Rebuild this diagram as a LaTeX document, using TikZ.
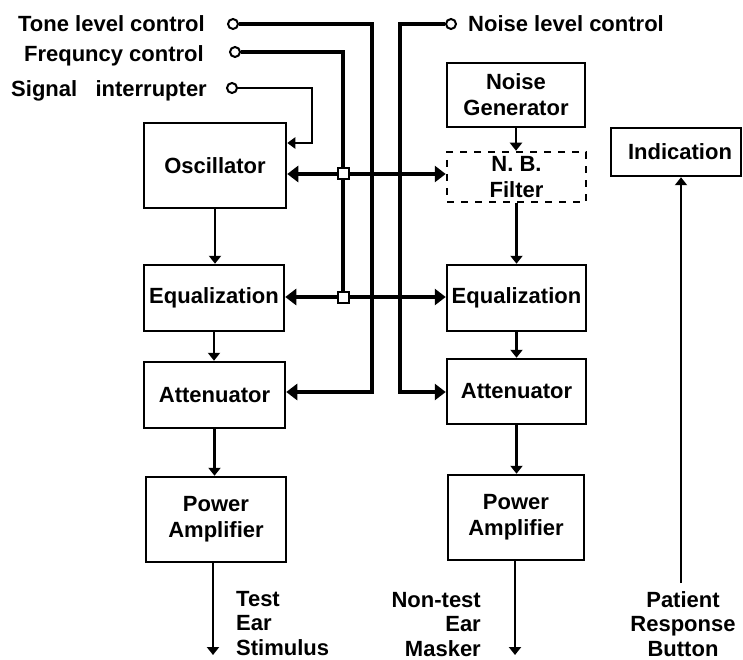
\documentclass[tikz,border=0pt]{standalone}
\usepackage{fontspec}
\setmainfont{Liberation Sans}
\usetikzlibrary{arrows.meta}
\begin{document}
\begin{tikzpicture}[x=1pt,y=-1pt,
  every node/.style={font=\fontsize{22}{26}\selectfont\bfseries, inner sep=0pt},
  blk/.style={draw, line width=2.5pt, align=center},
  dashblk/.style={blk, dash pattern=on 7pt off 7pt},
  flow/.style={line width=2.5pt, -{Triangle[length=8pt,width=12pt]}},
  ctrl/.style={line width=4pt, -{Triangle[length=11pt,width=16pt]}},
  dbl/.style={line width=4pt, {Triangle[length=11pt,width=16pt]}-{Triangle[length=11pt,width=16pt]}},
  thin/.style={line width=2.5pt, -{Triangle[length=8pt,width=11pt]}},
  term/.style={circle, draw, line width=2pt, minimum size=10pt, inner sep=0pt},
  sqr/.style={draw, fill=white, line width=2pt, minimum size=11pt, inner sep=0pt},
  lbl/.style={inner sep=0pt, align=left},
  outtxt/.style={inner sep=0pt, font=\fontsize{22}{24.5}\selectfont\bfseries}
]
\useasboundingbox (0,0) rectangle (743,660);

% boxes
\node[blk, minimum width=142pt, minimum height=85pt] (osc) at (215,165.5) {Oscillator};
\node[blk, minimum width=140pt, minimum height=66pt] (eqL) at (214,298) {Equalization};
\node[blk, minimum width=141pt, minimum height=66pt] (attL) at (214.5,395) {Attenuator};
\node[blk, minimum width=140pt, minimum height=85pt] (pwrL) at (216,519.5) {Power\\Amplifier};

\node[blk, minimum width=138pt, minimum height=64pt] (ng) at (516,95) {Noise\\Generator};
\node[dashblk, minimum width=139pt, minimum height=50pt] (nb) at (516.5,177) {N. B.\\Filter};
\node[blk, minimum width=139pt, minimum height=66pt] (eqR) at (516.5,298) {Equalization};
\node[blk, minimum width=139pt, minimum height=65pt] (attR) at (516.5,391.5) {Attenuator};
\node[blk, minimum width=136pt, minimum height=85pt] (pwrR) at (516,517.5) {Power\\Amplifier};

\node[blk, minimum width=130pt, minimum height=48pt] (ind) at (676,152) {\hspace*{8pt}Indication};

% labels
\node[lbl, anchor=base east] (toneL) at (205,32) {Tone level control};
\node[lbl, anchor=base east] (freqL) at (204,62) {Frequncy control};
\node[lbl, anchor=base east] (sigL) at (207,97) {Signal~~~interrupter};
\node[lbl, anchor=base west] (noiseL) at (468,32) {Noise level control};

% terminals
\node[term] (toneC) at (233,24) {};
\node[term] (freqC) at (235,52) {};
\node[term] (sigC) at (232,88) {};
\node[term] (noiseC) at (451,24) {};

% helper coordinates
\coordinate (s1) at (343,174);
\coordinate (s2) at (343,297);
\coordinate (tA) at (372,392);
\coordinate (nA) at (400,392);
\coordinate (sA) at (312,143);
\coordinate (outL) at (213,655);
\coordinate (outR) at (515,655);
\coordinate (pat) at (681,583);

% control lines
\draw[ctrl] (toneC.east) -| (tA) -- (tA -| attL.east);
\draw[ctrl] (noiseC.west) -| (nA) -- (nA -| attR.west);
\draw[line width=3.5pt] (freqC.east) -| (s2);
\draw[thin] (sigC.east) -| (sA) -- (sA -| osc.east);
\draw[dbl] (osc.east |- s1) -- (nb.west |- s1);
\draw[dbl] (eqL.east |- s2) -- (eqR.west |- s2);

% flow arrows
\draw[flow] (osc.south) -- (osc.south |- eqL.north);
\draw[flow] (eqL.south) -- (eqL.south |- attL.north);
\draw[flow] (attL.south) -- (attL.south |- pwrL.north);
\draw[flow] (outL |- pwrL.south) -- (outL);

\draw[flow] (ng.south) -- (ng.south |- nb.north);
\draw[flow] (nb.south) -- (nb.south |- eqR.north);
\draw[flow] (eqR.south) -- (eqR.south |- attR.north);
\draw[flow] (attR.south) -- (attR.south |- pwrR.north);
\draw[flow] (outR |- pwrR.south) -- (outR);

\draw[flow] (pat) -- (pat |- ind.south);

% junction squares
\node[sqr] (sq1) at (s1) {};
\node[sqr] (sq2) at (s2) {};

% output texts (base anchor = baseline of last line)
\node[outtxt, anchor=base west, align=left] (testT) at (236,655) {Test\\Ear\\Stimulus};
\node[outtxt, anchor=base east, align=right] (maskT) at (481,656) {Non-test\\Ear\\Masker};
\node[outtxt, anchor=base, align=center] (patT) at (683,656) {Patient\\Response\\Button};
\end{tikzpicture}
\end{document}
